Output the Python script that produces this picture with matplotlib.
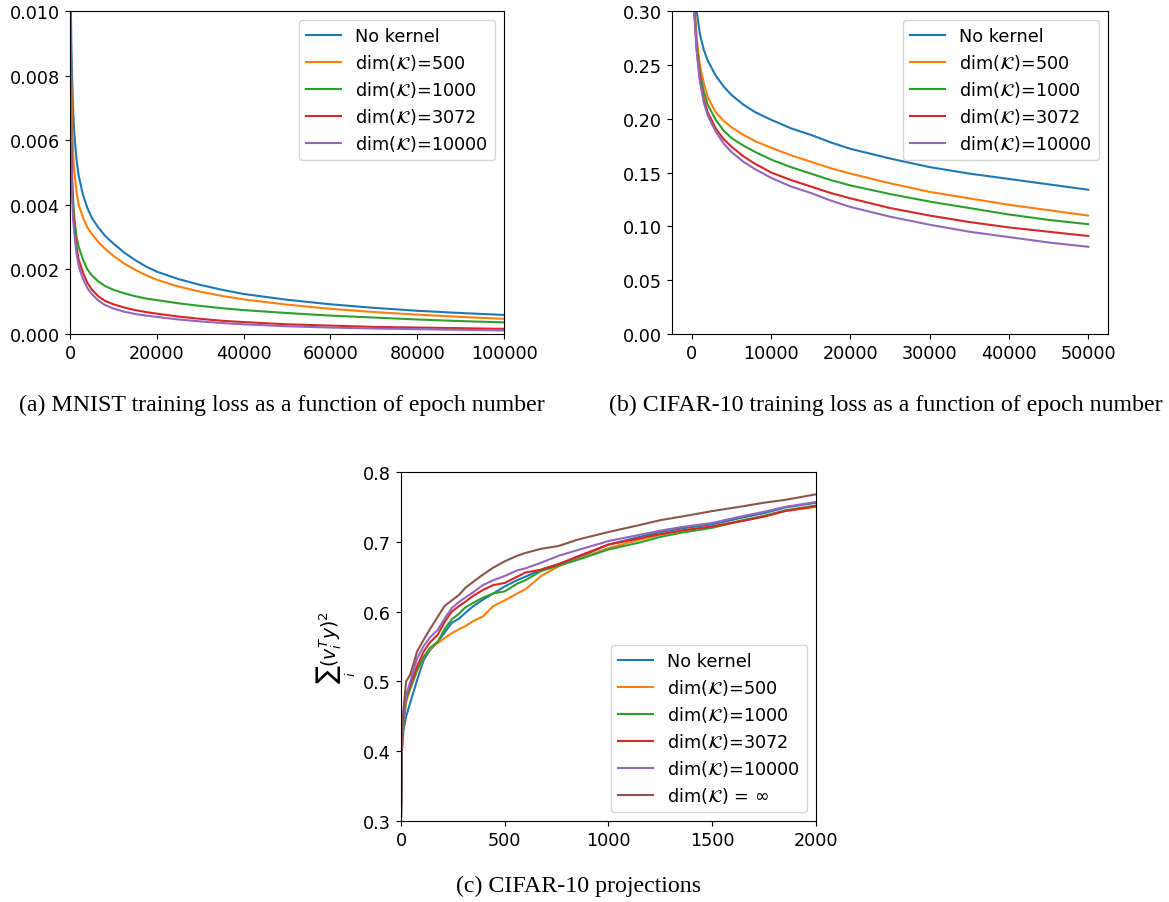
import matplotlib
matplotlib.use("Agg")
import matplotlib.pyplot as plt

# ---- data ----
labels = ["No kernel", r"dim($\mathcal{K}$)=500", r"dim($\mathcal{K}$)=1000",
          r"dim($\mathcal{K}$)=3072", r"dim($\mathcal{K}$)=10000"]
label_inf = r"dim($\mathcal{K}$) = $\infty$"

# (a) MNIST training loss
mnist_epochs = [0, 150, 300, 500, 750, 1000, 1500, 2000, 3000, 4000, 5000, 6500, 8000,
                10000, 12500, 15000, 17500, 20000, 25000, 30000, 35000, 40000, 50000,
                60000, 70000, 80000, 90000, 100000]
mnist_none = [0.020, 0.0105, 0.0090, 0.0078, 0.0068, 0.0062, 0.0054, 0.0049, 0.0043,
              0.0039, 0.0036, 0.0033, 0.00305, 0.0028, 0.00252, 0.00229, 0.00209, 0.00193,
              0.00170, 0.00152, 0.00137, 0.00124, 0.00106, 0.00092, 0.00081, 0.00072,
              0.00065, 0.00059]
mnist_500 = [0.020, 0.0095, 0.0078, 0.0064, 0.0055, 0.0050, 0.0044, 0.0040, 0.0036,
             0.0033, 0.0031, 0.00285, 0.00265, 0.00242, 0.00218, 0.00199, 0.00182, 0.00168,
             0.00147, 0.00131, 0.00118, 0.00107, 0.00091, 0.00078, 0.00068, 0.00060,
             0.00053, 0.00047]
mnist_1000 = [0.020, 0.0085, 0.0062, 0.0048, 0.0041, 0.0036, 0.0030, 0.0027, 0.0023,
              0.0020, 0.00182, 0.00163, 0.00149, 0.00137, 0.00126, 0.00117, 0.00110,
              0.00105, 0.00095, 0.00087, 0.00080, 0.00074, 0.00065, 0.00057, 0.00051,
              0.00045, 0.00040, 0.00036]
mnist_3072 = [0.020, 0.0080, 0.0058, 0.0045, 0.0037, 0.0033, 0.0027, 0.0023, 0.0019,
              0.00158, 0.00138, 0.00117, 0.00103, 0.00092, 0.00082, 0.00074, 0.00068,
              0.00063, 0.00054, 0.00047, 0.00041, 0.00037, 0.00030, 0.00026, 0.00022,
              0.00020, 0.00018, 0.00016]
mnist_10000 = [0.020, 0.0078, 0.0056, 0.0043, 0.0035, 0.0031, 0.0025, 0.0021, 0.0017,
               0.00142, 0.00124, 0.00104, 0.00090, 0.00079, 0.00069, 0.00062, 0.00057,
               0.00053, 0.00045, 0.00039, 0.00034, 0.00030, 0.00024, 0.00020, 0.00017,
               0.00015, 0.00013, 0.00011]

# (b) CIFAR-10 training loss
cifar_epochs = [0, 300, 600, 1000, 1500, 2000, 3000, 4000, 5000, 6500, 8000, 10000,
                12500, 15000, 17500, 20000, 25000, 30000, 35000, 40000, 45000, 50000]
cifar_none = [0.45, 0.36, 0.300, 0.279, 0.264, 0.254, 0.240, 0.230, 0.222, 0.213, 0.206,
              0.199, 0.191, 0.185, 0.178, 0.172, 0.163, 0.155, 0.149, 0.144, 0.139, 0.134]
cifar_500 = [0.45, 0.31, 0.275, 0.250, 0.233, 0.220, 0.206, 0.198, 0.192, 0.185, 0.179,
             0.173, 0.166, 0.160, 0.154, 0.149, 0.140, 0.132, 0.126, 0.120, 0.115, 0.110]
cifar_1000 = [0.45, 0.305, 0.270, 0.243, 0.225, 0.213, 0.199, 0.189, 0.182, 0.175, 0.169,
              0.162, 0.155, 0.149, 0.143, 0.138, 0.130, 0.123, 0.117, 0.111, 0.106, 0.102]
cifar_3072 = [0.45, 0.30, 0.265, 0.237, 0.218, 0.206, 0.191, 0.181, 0.174, 0.165, 0.158,
              0.150, 0.143, 0.137, 0.131, 0.126, 0.117, 0.110, 0.104, 0.099, 0.095, 0.091]
cifar_10000 = [0.45, 0.30, 0.263, 0.235, 0.215, 0.203, 0.188, 0.177, 0.169, 0.160, 0.153,
               0.145, 0.137, 0.131, 0.124, 0.118, 0.109, 0.1015, 0.095, 0.090, 0.085, 0.081]

# (c) CIFAR-10 projections
proj_k = [0, 5, 12, 25, 45, 78, 110, 140, 178, 210, 245, 280, 310, 345, 395, 445, 500,
          560, 600, 675, 760, 850, 1000, 1150, 1250, 1350, 1500, 1650, 1750, 1850, 2000]
proj_none = [0.30, 0.40, 0.43, 0.45, 0.47, 0.502, 0.531, 0.545, 0.557, 0.570, 0.584,
             0.590, 0.598, 0.607, 0.617, 0.626, 0.636, 0.645, 0.650, 0.660, 0.668, 0.677,
             0.696, 0.707, 0.714, 0.719, 0.725, 0.735, 0.741, 0.749, 0.756]
proj_500 = [0.30, 0.41, 0.44, 0.47, 0.49, 0.515, 0.535, 0.547, 0.555, 0.562, 0.569,
            0.575, 0.579, 0.586, 0.593, 0.608, 0.616, 0.626, 0.632, 0.651, 0.665, 0.675,
            0.691, 0.703, 0.710, 0.716, 0.722, 0.731, 0.737, 0.744, 0.750]
proj_1000 = [0.30, 0.41, 0.44, 0.475, 0.49, 0.517, 0.535, 0.548, 0.557, 0.575, 0.589,
             0.597, 0.606, 0.612, 0.620, 0.626, 0.629, 0.640, 0.645, 0.658, 0.666, 0.674,
             0.689, 0.699, 0.707, 0.713, 0.720, 0.731, 0.737, 0.745, 0.752]
proj_3072 = [0.30, 0.42, 0.45, 0.48, 0.495, 0.522, 0.543, 0.556, 0.567, 0.585, 0.600,
             0.608, 0.614, 0.622, 0.631, 0.638, 0.641, 0.650, 0.656, 0.660, 0.668, 0.679,
             0.696, 0.705, 0.711, 0.716, 0.722, 0.730, 0.736, 0.744, 0.751]
proj_10000 = [0.30, 0.42, 0.45, 0.48, 0.50, 0.533, 0.551, 0.563, 0.574, 0.590, 0.605,
              0.614, 0.620, 0.627, 0.638, 0.645, 0.651, 0.659, 0.662, 0.670, 0.680, 0.688,
              0.701, 0.710, 0.716, 0.721, 0.727, 0.737, 0.743, 0.750, 0.757]
proj_inf = [0.30, 0.43, 0.46, 0.50, 0.51, 0.543, 0.560, 0.575, 0.593, 0.608, 0.616,
            0.624, 0.634, 0.642, 0.653, 0.663, 0.672, 0.680, 0.684, 0.690, 0.694, 0.703,
            0.714, 0.724, 0.731, 0.736, 0.744, 0.751, 0.756, 0.760, 0.768]

FS = 12.7
plt.rcParams["font.size"] = FS

fig = plt.figure(figsize=(11.69, 9.03), dpi=100)
ax_a = fig.add_axes([0.0599, 0.629, 0.3713, 0.3577])
ax_b = fig.add_axes([0.5749, 0.629, 0.3730, 0.3577])
ax_c = fig.add_axes([0.3430, 0.0897, 0.3550, 0.3865])

for ys, lab in zip([mnist_none, mnist_500, mnist_1000, mnist_3072, mnist_10000], labels):
    ax_a.plot(mnist_epochs, ys, label=lab)
ax_a.set_xlim(0, 100000)
ax_a.set_ylim(0, 0.010)
ax_a.set_yticks([0, 0.002, 0.004, 0.006, 0.008, 0.010])
ax_a.legend(loc="upper right", fontsize=FS, labelspacing=0.4)

for ys, lab in zip([cifar_none, cifar_500, cifar_1000, cifar_3072, cifar_10000], labels):
    ax_b.plot(cifar_epochs, ys, label=lab)
ax_b.set_xlim(-2500, 52500)
ax_b.set_ylim(0, 0.30)
ax_b.legend(loc="upper right", fontsize=FS, labelspacing=0.4)

for ys, lab in zip([proj_none, proj_500, proj_1000, proj_3072, proj_10000, proj_inf],
                   labels + [label_inf]):
    ax_c.plot(proj_k, ys, label=lab)
ax_c.set_xlim(0, 2000)
ax_c.set_ylim(0.3, 0.8)
ax_c.set_ylabel(r"$\sum_i (v_i^T y)^2$", fontsize=13.5)
ax_c.legend(loc="lower right", fontsize=FS, labelspacing=0.4)

cap = dict(family="Liberation Serif", fontsize=17.2, ha="center", va="center")
fig.text(282 / 1169, 1 - 405 / 903, "(a) MNIST training loss as a function of epoch number", **cap)
fig.text(886 / 1169, 1 - 405 / 903, "(b) CIFAR-10 training loss as a function of epoch number", **cap)
fig.text(578 / 1169, 1 - 886 / 903, "(c) CIFAR-10 projections", **cap)

fig.savefig("out.png", dpi=100)
